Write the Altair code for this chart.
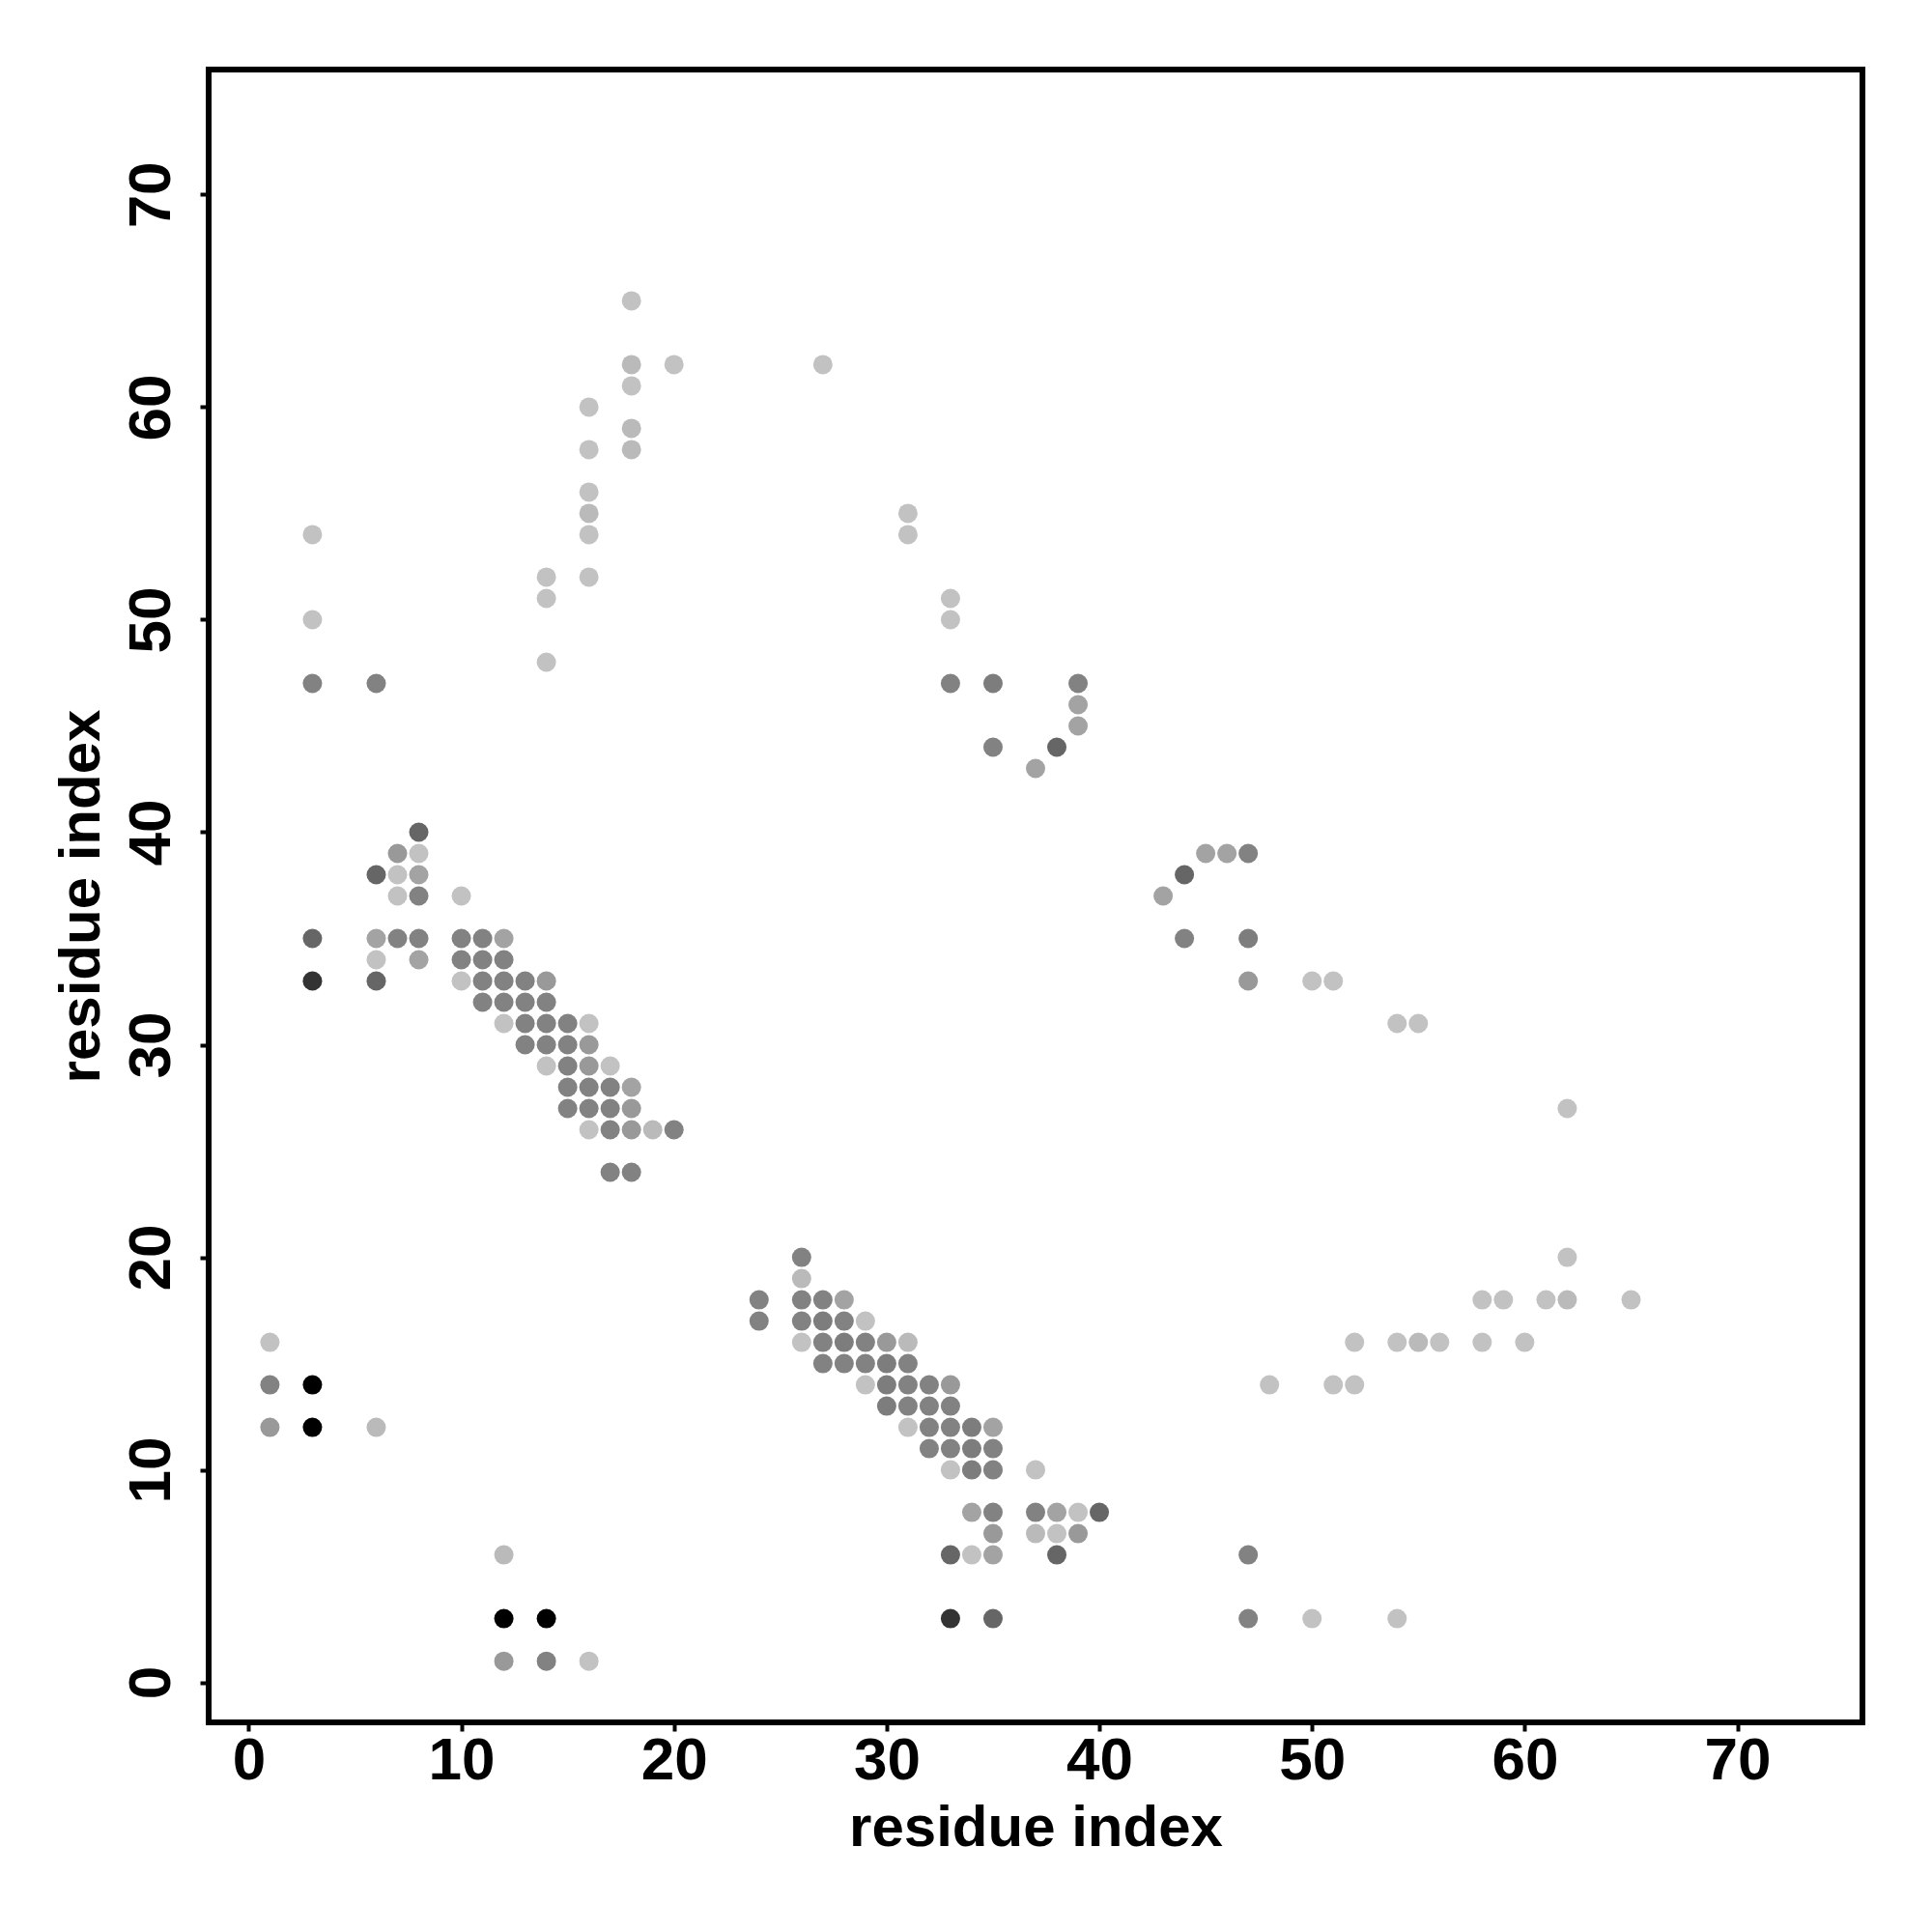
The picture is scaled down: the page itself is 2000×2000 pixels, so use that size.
import altair as alt
import pandas as pd

# contact strength levels (0 = none, 1 = strongest)
L, L2, M3, M2, M, M1, D, VD, B = 0.24, 0.27, 0.36, 0.40, 0.49, 0.51, 0.60, 0.80, 1.00

x_idx = [
    # upper-left scattered contacts
    18, 18, 20, 18, 16, 18, 16, 18, 16, 16, 16, 3, 14, 16, 14, 3, 14, 3, 6,
    # cluster 1
    8,
    7, 8,
    6, 7, 8,
    7, 8, 10,
    3, 6, 7, 8, 10, 11, 12,
    6, 8, 10, 11, 12,
    3, 6, 10, 11, 12, 13, 14,
    11, 12, 13, 14,
    12, 13, 14, 15, 16,
    13, 14, 15, 16,
    14, 15, 16, 17,
    15, 16, 17, 18,
    15, 16, 17, 18,
    16, 17, 18, 19, 20,
    17, 18,
    # lower-left
    1, 1, 3, 1, 3, 6,
    12, 12, 14, 12, 14, 16,
    # cluster 2
    26,
    26,
    24, 26, 27, 28,
    24, 26, 27, 28, 29,
    26, 27, 28, 29, 30, 31,
    27, 28, 29, 30, 31,
    29, 30, 31, 32, 33,
    30, 31, 32, 33,
    31, 32, 33, 34, 35,
    32, 33, 34, 35,
    33, 34, 35, 37,
    34, 35, 37, 38, 39, 40,
    35, 37, 38, 39,
    33, 34, 35, 38,
    33, 35,
    # middle
    27,
    31, 31, 33, 33, 33, 35, 39, 39, 39, 35, 38, 37,
    45, 46, 47, 44, 43, 44, 47, 47, 50, 51,
    54, 55,
    # right
    62, 62, 58, 59, 61, 62, 65,
    52, 54, 55, 56, 58, 60,
    48, 51, 52,
    47, 47, 50, 54,
]

y_idx = [
    65, 62, 62, 61, 60, 59, 58, 58, 56, 55, 54, 54, 52, 52, 51, 50, 48, 47, 47,
    40,
    39, 39,
    38, 38, 38,
    37, 37, 37,
    35, 35, 35, 35, 35, 35, 35,
    34, 34, 34, 34, 34,
    33, 33, 33, 33, 33, 33, 33,
    32, 32, 32, 32,
    31, 31, 31, 31, 31,
    30, 30, 30, 30,
    29, 29, 29, 29,
    28, 28, 28, 28,
    27, 27, 27, 27,
    26, 26, 26, 26, 26,
    24, 24,
    16, 14, 14, 12, 12, 12,
    6, 3, 3, 1, 1, 1,
    20,
    19,
    18, 18, 18, 18,
    17, 17, 17, 17, 17,
    16, 16, 16, 16, 16, 16,
    15, 15, 15, 15, 15,
    14, 14, 14, 14, 14,
    13, 13, 13, 13,
    12, 12, 12, 12, 12,
    11, 11, 11, 11,
    10, 10, 10, 10,
    8, 8, 8, 8, 8, 8,
    7, 7, 7, 7,
    6, 6, 6, 6,
    3, 3,
    62,
    55, 54, 51, 50, 47, 47, 47, 46, 45, 44, 44, 43,
    39, 39, 39, 38, 37, 35, 35, 33, 33, 33,
    31, 31,
    27, 20, 18, 18, 18, 18, 18,
    16, 16, 16, 16, 16, 16,
    14, 14, 14,
    6, 3, 3, 3,
]

strength = [
    L, L2, L, L, L, L2, L, L2, L, L2, L, L, L, L, L, L, L, M, M,
    D,
    M2, L,
    D, L, M3,
    L, M, L,
    D, M3, M, M, M, M, M3,
    L, M3, M, M, M,
    VD, D, L, M, M, M, M2,
    M, M, M, M,
    L, M, M, M, L,
    M, M, M, M2,
    L, M, M2, L,
    M, M, M, M3,
    M, M, M, M2,
    L, M, M2, L2, M,
    M, M,
    L, M, B, M2, B, L2,
    L2, B, B, M2, M, L,
    M,
    L2,
    M, M, M, M3,
    M, M, M1, M, L,
    L, M, M1, M, M2, L2,
    M, M, M, M1, M,
    L, M1, M, M, M2,
    M1, M, M, M,
    L, M, M, M1, M3,
    M, M, M1, M,
    L, M1, M, L,
    M3, M, M, M3, L, D,
    M2, L2, L, M2,
    D, L, M3, D,
    VD, D,
    L,
    L, L, L, L, M, M1, M, M3, M3, M, D, M3,
    M3, M3, M, D, M3, M, M1, M2, L, L,
    L, L,
    L, L, L, L, L, L2, L,
    L, L, L2, L, L, L,
    L, L, L,
    M, M, L, L,
]

tick_values = [0, 10, 20, 30, 40, 50, 60, 70]
axis_title = "residue index"

df = pd.DataFrame({"i": x_idx, "j": y_idx, "strength": strength})

FONT = "Liberation Sans"
W, H = 1712, 1711
dom = [-1.88, 75.88]

chart = (
    alt.Chart(df)
    .mark_circle(size=400, opacity=1, strokeWidth=0)
    .encode(
        x=alt.X(
            "i:Q",
            scale=alt.Scale(domain=dom, nice=False, zero=False),
            axis=alt.Axis(
                values=tick_values,
                title=axis_title,
                grid=False,
                domain=False,
                tickColor="black",
                tickWidth=4,
                tickSize=9,
                labelFont=FONT,
                labelFontSize=62,
                labelFontWeight="bold",
                labelColor="black",
                labelPadding=0,
                labelFlush=False,
                labelBaseline="top",
                titleFont=FONT,
                titleFontSize=60,
                titleFontWeight="bold",
                titleColor="black",
                titleX=W / 2,
                titleY=127,
                titleAlign="center",
                titleBaseline="alphabetic",
            ),
        ),
        y=alt.Y(
            "j:Q",
            scale=alt.Scale(domain=dom, nice=False, zero=False),
            axis=alt.Axis(
                values=tick_values,
                title=axis_title,
                grid=False,
                domain=False,
                tickColor="black",
                tickWidth=4,
                tickSize=9,
                labelFont=FONT,
                labelFontSize=62,
                labelFontWeight="bold",
                labelColor="black",
                labelAngle=270,
                labelAlign="center",
                labelBaseline="alphabetic",
                labelPadding=32,
                labelFlush=False,
                titleFont=FONT,
                titleFontSize=60,
                titleFontWeight="bold",
                titleColor="black",
                titleAngle=270,
                titleX=-114,
                titleY=H / 2,
                titleAlign="center",
                titleBaseline="alphabetic",
            ),
        ),
        color=alt.Color(
            "strength:Q",
            scale=alt.Scale(domain=[0, 1], range=["#ffffff", "#000000"], interpolate="rgb"),
            legend=None,
        ),
    )
    .properties(
        width=W,
        height=H,
        autosize=alt.AutoSizeParams(type="none"),
        padding={"left": 208, "top": 64, "right": 60, "bottom": 200},
    )
    .configure(background="white")
    .configure_view(stroke="black", strokeWidth=6)
)

chart.save("out.html", embed_options={"renderer": "svg", "actions": False})
